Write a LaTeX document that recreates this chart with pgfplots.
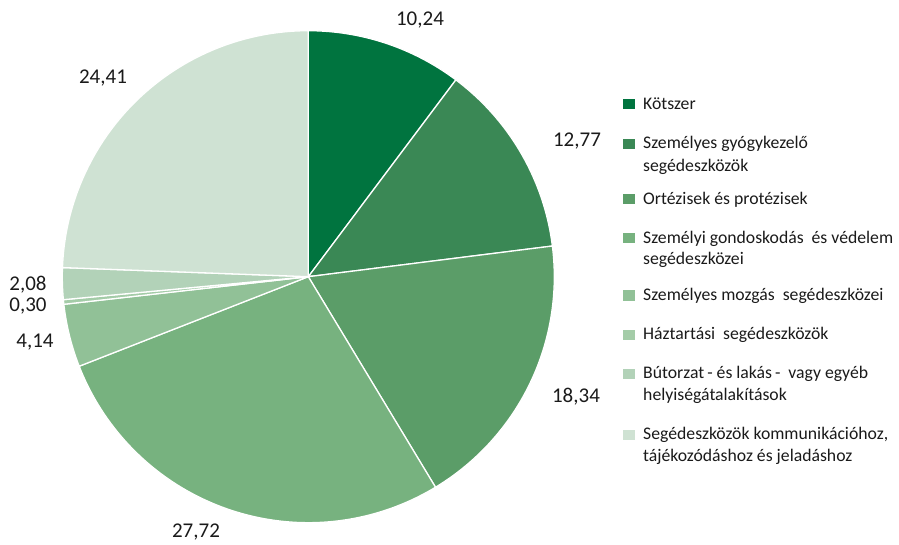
\documentclass[border=0pt]{standalone}
\usepackage{pgfplots}
\pgfplotsset{compat=1.18}
\usepackage{fontspec}
\setmainfont{Carlito}
\definecolor{c1}{HTML}{00743F}
\definecolor{c2}{HTML}{3A8855}
\definecolor{c3}{HTML}{5B9D68}
\definecolor{c4}{HTML}{77B27F}
\definecolor{c5}{HTML}{91C197}
\definecolor{c6}{HTML}{A4CCA8}
\definecolor{c7}{HTML}{B2D2B8}
\definecolor{c8}{HTML}{CFE2D3}
\definecolor{txt}{HTML}{1A1A1A}
% slice values (percent), clockwise from 12 o'clock
\def\vA{10.24}\def\vB{12.77}\def\vC{18.34}\def\vD{27.72}
\def\vE{4.14}\def\vF{0.30}\def\vG{2.08}\def\vH{24.41}
\pgfmathsetmacro\aA{0}
\pgfmathsetmacro\aB{\aA+3.6*\vA}
\pgfmathsetmacro\aC{\aB+3.6*\vB}
\pgfmathsetmacro\aD{\aC+3.6*\vC}
\pgfmathsetmacro\aE{\aD+3.6*\vD}
\pgfmathsetmacro\aF{\aE+3.6*\vE}
\pgfmathsetmacro\aG{\aF+3.6*\vF}
\pgfmathsetmacro\aH{\aG+3.6*\vG}
\pgfmathsetmacro\aI{\aH+3.6*\vH}
\def\cx{308.3}\def\cy{268.3}\def\R{246}
\newcommand{\slice}[3]{%
  \addplot[fill=#1, draw=white, line width=1.3pt, domain=#2:#3, samples=80]
    ({\cx+\R*sin(x)},{\cy+\R*cos(x)}) -- (axis cs:\cx,\cy) -- cycle;}
\newcommand{\lab}{\fontsize{21}{25}\selectfont}
\newcommand{\leg}{\fontsize{17.7}{22}\selectfont}
\begin{document}
\begin{tikzpicture}
\begin{axis}[hide axis, scale only axis, width=899pt, height=545pt,
  xmin=0, xmax=899, ymin=0, ymax=545, clip=false]
\path (rel axis cs:0,0) rectangle (rel axis cs:1,1);
\slice{c1}{\aA}{\aB}
\slice{c2}{\aB}{\aC}
\slice{c3}{\aC}{\aD}
\slice{c4}{\aD}{\aE}
\slice{c5}{\aE}{\aF}
\slice{c6}{\aF}{\aG}
\slice{c7}{\aG}{\aH}
\slice{c8}{\aH}{\aI}
% data labels
\node[text=txt, font=\lab] at (axis cs:420,525) {10,24};
\node[text=txt, font=\lab] at (axis cs:577,404) {12,77};
\node[text=txt, font=\lab] at (axis cs:576,148) {18,34};
\node[text=txt, font=\lab] at (axis cs:196,13) {27,72};
\node[text=txt, font=\lab] at (axis cs:35,203) {4,14};
\node[text=txt, font=\lab] at (axis cs:28,239) {0,30};
\node[text=txt, font=\lab] at (axis cs:28,260) {2,08};
\node[text=txt, font=\lab] at (axis cs:103,467) {24,41};
% legend
\fill[c1] (axis cs:623,435.7) rectangle (axis cs:634.5,446);
\fill[c2] (axis cs:623,396) rectangle (axis cs:634.5,406.3);
\fill[c3] (axis cs:623,340.7) rectangle (axis cs:634.5,351);
\fill[c4] (axis cs:623,301.7) rectangle (axis cs:634.5,312);
\fill[c5] (axis cs:623,244.3) rectangle (axis cs:634.5,254.6);
\fill[c6] (axis cs:623,205) rectangle (axis cs:634.5,215.3);
\fill[c7] (axis cs:623,166) rectangle (axis cs:634.5,176.3);
\fill[c8] (axis cs:623,105) rectangle (axis cs:634.5,115.3);
\begin{scope}[every node/.style={anchor=base west, inner sep=0pt, text=txt, font=\leg}]
\node at (axis cs:643,435.7) {Kötszer};
\node at (axis cs:643,396) {Személyes gyógykezelő};
\node at (axis cs:643,373.3) {segédeszközök};
\node at (axis cs:643,340.7) {Ortézisek és protézisek};
\node at (axis cs:643,301.7) {Személyi gondoskodás\ \ és védelem};
\node at (axis cs:643,280) {segédeszközei};
\node at (axis cs:643,244.3) {Személyes mozgás\ \ segédeszközei};
\node at (axis cs:643,205) {Háztartási\ \ segédeszközök};
\node at (axis cs:643,166) {Bútorzat\,- és lakás\,-\ \ vagy egyéb};
\node at (axis cs:643,144.3) {helyiségátalakítások};
\node at (axis cs:643,105) {Segédeszközök kommunikációhoz,};
\node at (axis cs:643,83.3) {tájékozódáshoz és jeladáshoz};
\end{scope}
\end{axis}
\end{tikzpicture}
\end{document}
